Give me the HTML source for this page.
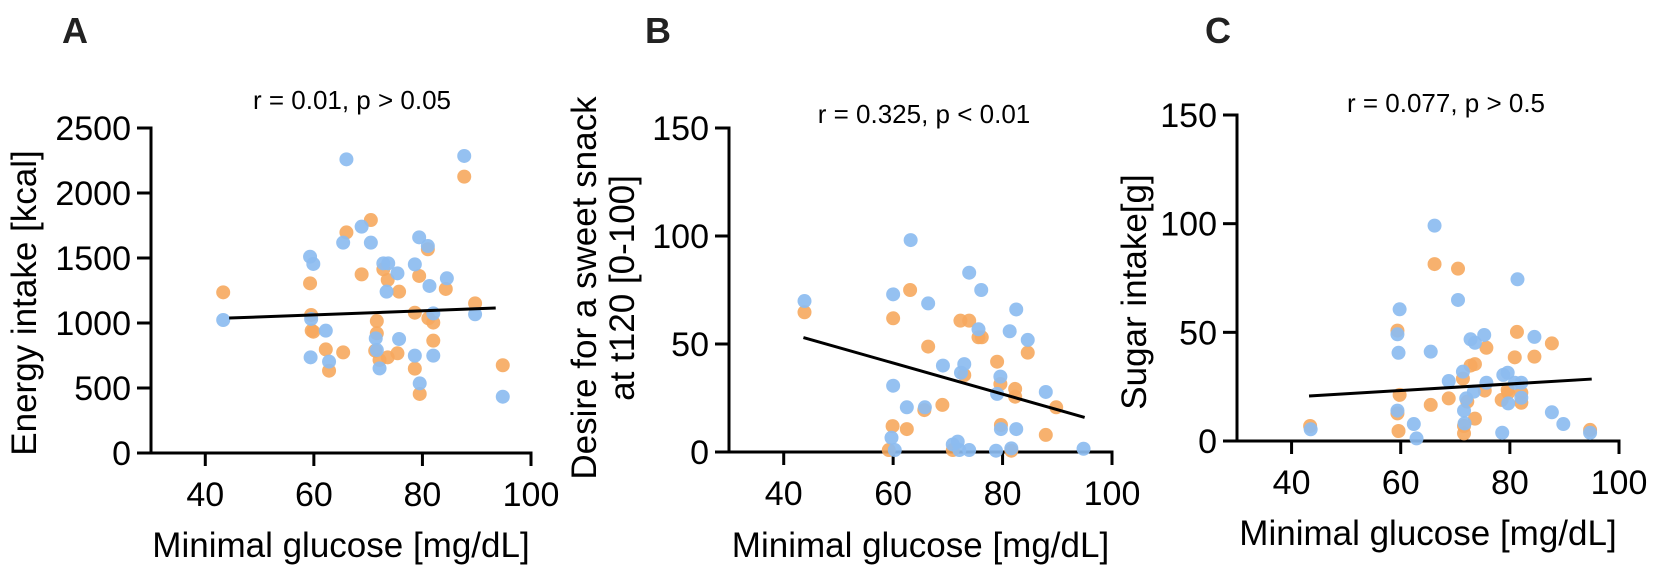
<!DOCTYPE html>
<html><head><meta charset="utf-8"><style>
html,body{margin:0;padding:0;background:#fff;}
svg{display:block;font-family:"Liberation Sans",Arial,sans-serif;}
</style></head><body>
<svg id="fig" width="1654" height="566" viewBox="0 0 1654 566" xmlns="http://www.w3.org/2000/svg"></svg>
<script>
// Panel A data: energy intake
const aBlueX=[43.3,66.0,87.7,68.8,65.4,70.5,59.3,59.9,79.4,81.0,72.8,73.7,75.4,73.4,78.6,81.3,84.5,59.5,82.0,89.7,62.2,71.4,71.6,75.7,59.4,62.8,72.1,78.6,82.0,79.5,94.8];
const aBlueY=[1023,2259,2285,1741,1618,1618,1510,1454,1659,1592,1459,1459,1382,1241,1451,1285,1344,1031,1074,1067,941,882,792,877,736,703,651,749,749,536,433];
const aOrangeX=[43.3,87.7,70.5,66.0,81.0,59.3,68.8,72.8,73.6,75.7,79.4,84.3,89.7,59.5,59.6,59.9,71.6,78.6,81.1,82.0,82.0,71.6,62.2,65.4,71.3,72.1,73.6,75.4,62.8,78.6,79.5,94.8];
const aOrangeY=[1236,2126,1792,1697,1567,1305,1374,1413,1331,1241,1362,1262,1151,1062,941,933,1015,1079,1036,1003,864,921,797,774,787,715,736,767,633,649,454,675];
const aFitX=[44.4,93.5];
const aFitY=[1038,1115];
const aYTicks=[0,500,1000,1500,2000,2500];
// Panel B data: desire for sweet snack
const bBlueX=[43.8,63.2,60.0,66.4,73.9,76.1,82.5,75.6,81.3,84.6,69.1,73.0,72.4,79.6,79.0,87.9,60.0,62.5,65.8,79.7,82.5,59.7,60.3,71.8,70.9,72.1,73.9,78.8,81.6,94.8];
const bBlueY=[69.9,98.1,73.0,68.8,83.0,75.0,66.0,56.8,55.9,51.9,40.0,40.7,36.7,34.9,26.9,27.8,30.7,20.7,20.7,10.6,10.6,6.6,0.9,4.8,3.5,0.9,0.9,0.6,1.7,1.5];
const bOrangeX=[43.8,63.1,60.0,66.4,72.3,73.9,75.6,76.2,84.6,79.0,73.0,79.6,82.3,82.3,69.0,65.7,89.8,59.9,62.5,79.7,87.9,59.2,70.9,81.6];
const bOrangeY=[64.7,75.0,61.9,48.8,60.8,60.8,53.1,53.1,46.0,41.8,35.6,31.5,29.2,25.6,21.8,19.4,20.7,12.0,10.6,12.5,7.9,0.9,0.9,0.6];
const bFitX=[43.6,95];
const bFitY=[53,16];
const bYTicks=[0,50,100,150];
// Panel C data: sugar intake
const cBlueX=[43.5,66.2,81.4,70.5,59.8,59.4,59.6,65.5,72.8,73.6,75.3,84.5,71.4,68.8,75.7,78.8,79.6,80.9,82.1,73.4,72.0,82.1,79.7,71.6,59.4,87.7,62.4,71.7,89.8,62.9,78.6,94.7];
const cBlueY=[5.4,99.1,74.4,64.9,60.6,49.1,40.6,41.1,46.8,45.2,48.8,47.9,31.9,27.6,26.8,30.4,31.4,26.8,26.8,22.7,19.6,19.9,17.3,14.0,14.0,13.2,7.8,8.1,7.8,1.2,3.8,3.8];
const cOrangeX=[43.4,66.2,70.5,59.4,81.3,87.7,75.7,80.9,84.5,73.6,72.8,71.4,79.6,79.7,75.4,82.1,59.8,68.8,78.5,72.2,82.1,65.5,59.4,73.6,71.6,59.6,71.6,94.7];
const cOrangeY=[6.9,81.4,79.3,50.8,50.2,44.9,42.9,38.5,38.8,35.4,34.7,28.7,23.5,22.2,23.2,22.2,21.2,19.6,18.9,18.1,17.6,16.6,12.7,10.3,6.9,4.6,3.5,5.1];
const cFitX=[43.2,95];
const cFitY=[20.7,28.5];
const cYTicks=[0,50,100,150];
const xTicks=[40,60,80,100];

const NS="http://www.w3.org/2000/svg";
const svg=document.getElementById('fig');
function mk(tag,attrs,parent,text){const e=document.createElementNS(NS,tag);for(const k in attrs)e.setAttribute(k,attrs[k]);if(text!==undefined)e.textContent=text;(parent||svg).appendChild(e);return e;}

const BLUE="#8cbcf0", ORANGE="#f6a95e";
const panels=[
 {id:'a',letter:'A',lx:62,ax:151,ay:453,x100:531,ytop:128,ymax:2500,yt:aYTicks,bx:aBlueX,by:aBlueY,ox:aOrangeX,oy:aOrangeY,fx:aFitX,fy:aFitY,
  title:'r = 0.01, p > 0.05',tx:352,ty:109,ylab:['Energy intake [kcal]'],ylx:[36],yly:303,xlabY:557},
 {id:'b',letter:'B',lx:645,ax:729,ay:452,x100:1112,ytop:128,ymax:150,yt:bYTicks,bx:bBlueX,by:bBlueY,ox:bOrangeX,oy:bOrangeY,fx:bFitX,fy:bFitY,
  title:'r = 0.325, p < 0.01',tx:924,ty:123,ylab:['Desire for a sweet snack','at t120 [0-100]'],ylx:[596,634],yly:288,xlabY:557},
 {id:'c',letter:'C',lx:1205,ax:1237,ay:441,x100:1619,ytop:115,ymax:150,yt:cYTicks,bx:cBlueX,by:cBlueY,ox:cOrangeX,oy:cOrangeY,fx:cFitX,fy:cFitY,
  title:'r =  0.077, p > 0.5',tx:1446,ty:112,ylab:['Sugar intake[g]'],ylx:[1146],yly:292,xlabY:545}
];

panels.forEach(p=>{
  const g=mk('g',{});
  
  
  const sx=v=>p.ax+(v-30)*(p.x100-p.ax)/70;
  const sy=v=>p.ay-v*(p.ay-p.ytop)/p.ymax;
  const L=mk('text',{x:p.lx,y:43,'font-size':36,'font-weight':'bold',fill:'#222'},g,p.letter);
  
  
  const T=mk('text',{x:p.tx,y:p.ty,'font-size':26,'text-anchor':'middle',fill:'#000','xml:space':'preserve'},g,p.title);
  
  
  const yAx=mk('line',{x1:p.ax,y1:p.ytop-1.5,x2:p.ax,y2:p.ay+1.5,stroke:'#000','stroke-width':3},g);
  
  
  const xAx=mk('line',{x1:p.ax-14,y1:p.ay,x2:p.x100+1.5,y2:p.ay,stroke:'#000','stroke-width':3},g);
  
  
  p.yt.forEach(v=>{
    const y=sy(v);
    mk('line',{x1:p.ax-14,y1:y,x2:p.ax,y2:y,stroke:'#000','stroke-width':3},g);
    const t=mk('text',{x:p.ax-20,y:y+12,'font-size':34,'text-anchor':'end'},g,String(v));
    
    
  });
  xTicks.forEach(v=>{
    const x=sx(v);
    mk('line',{x1:x,y1:p.ay,x2:x,y2:p.ay+13,stroke:'#000','stroke-width':3},g);
    const t=mk('text',{x:x,y:p.ay+53,'font-size':34,'text-anchor':'middle'},g,String(v));
    
    
  });
  const xl=mk('text',{x:(p.ax+p.x100)/2,y:p.xlabY,'font-size':35,'text-anchor':'middle'},g,'Minimal glucose [mg/dL]');
  
  
  p.ylab.forEach((s,i)=>{
    const t=mk('text',{x:0,y:0,'font-size':35,'text-anchor':'middle',transform:`translate(${p.ylx[i]},${p.yly}) rotate(-90)`},g,s);
    
    
  });
  p.ox.forEach((v,i)=>{
    const c=mk('circle',{cx:sx(v),cy:sy(p.oy[i]),r:7,fill:ORANGE,'fill-opacity':0.9},g);
    
    
  });
  p.bx.forEach((v,i)=>{
    const c=mk('circle',{cx:sx(v),cy:sy(p.by[i]),r:7,fill:BLUE,'fill-opacity':0.92},g);
    
    
  });
  const fl=mk('line',{x1:sx(p.fx[0]),y1:sy(p.fy[0]),x2:sx(p.fx[1]),y2:sy(p.fy[1]),stroke:'#000','stroke-width':3},g);
  
  
});
</script>
</body></html>
